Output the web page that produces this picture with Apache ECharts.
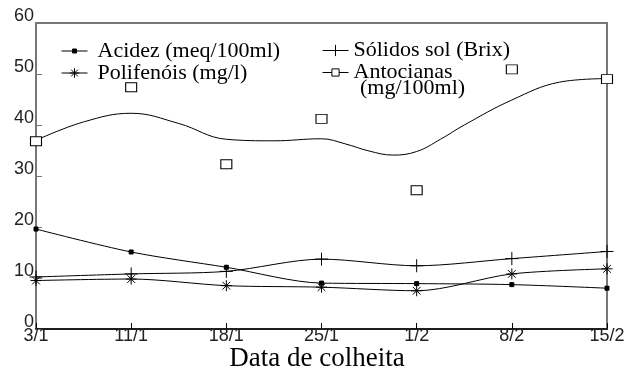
<!DOCTYPE html>
<html>
<head>
<meta charset="utf-8">
<script src="https://cdn.jsdelivr.net/npm/echarts@6/dist/echarts.min.js"></script>
<style>
  html, body { margin: 0; padding: 0; background: #fff; }
  #chart { width: 641px; height: 375px; }
</style>
</head>
<body>
<div id="chart"></div>
<script>
// datas de colheita
const categories = ['3/1', '11/1', '18/1', '25/1', '1/2', '8/2', '15/2'];
const yTicks = [0, 10, 20, 30, 40, 50, 60];
// valores
const acidez = [19.6, 15.1, 12.1, 9.0, 8.9, 8.7, 8.0];
const solidos = [10.2, 10.8, 11.3, 13.7, 12.4, 13.8, 15.2];
const polifenois = [9.5, 9.8, 8.5, 8.2, 7.5, 10.8, 11.8];
const antocianas = [36.8, 47.4, 32.3, 41.2, 27.2, 50.9, 49.0];
// curva ajustada das antocianas (posicao no eixo das datas, valor)
const curvePos = [0, 0.5, 1, 1.5, 2, 2.5, 3, 3.25, 3.5, 3.75, 4, 4.25, 4.5, 5, 5.5, 6];
const curveVals = [37.0, 40.6, 42.3, 40.3, 37.2, 36.9, 37.3, 36.3, 34.9, 34.1, 34.8, 37.2, 40.0, 44.9, 48.4, 49.1];

const serif = '"Liberation Serif", "Times New Roman", serif';
const sans = '"Liberation Sans", Arial, sans-serif';
const black = '#000';
const frame = '#777';

// simbolos
const plusPath = 'path://M0,5L10,5M5,0L5,10';
const starPath = 'path://M0,5L10,5M5,0L5,10M1.5,1.5L8.5,8.5M8.5,1.5L1.5,8.5';

const chart = echarts.init(document.getElementById('chart'));

function legendAt(name, left, top, itemHeight, itemStyle, padLeft) {
  return {
    show: true,
    data: [{ name: name, itemStyle: itemStyle, lineStyle: { color: black, width: 1, opacity: 1 } }],
    left: left,
    top: top,
    orient: 'vertical',
    itemWidth: 26,
    itemHeight: itemHeight,
    padding: 0,
    selectedMode: false,
    textStyle: {
      fontFamily: serif,
      fontSize: 22,
      lineHeight: 22,
      color: black,
      padding: [0, 0, 4, padLeft]
    }
  };
}

const lineStroke = { color: black, width: 1 };
const solidItem = { color: black, borderColor: black, borderWidth: 1 };
const boxItem = { color: '#fff', borderColor: black, borderWidth: 1 };
const tickFont = {
  fontFamily: sans,
  fontSize: 18,
  lineHeight: 14,
  color: '#222'
};

const option = {
  animation: false,
  backgroundColor: '#fff',
  grid: {
    left: 36,
    right: 34,
    top: 23,
    bottom: 46,
    show: true,
    borderColor: frame,
    borderWidth: 2,
    backgroundColor: 'transparent',
    outerBoundsMode: 'none'
  },
  legend: [
    legendAt('Acidez (meq/100ml)', 61, 38, 5, solidItem, 5),
    legendAt('Polifenóis (mg/l)', 61, 60, 12, solidItem, 5),
    legendAt('Sólidos sol (Brix)', 322, 37.5, 14, solidItem, 0),
    legendAt('Antocianas', 322, 59.5, 9, boxItem, 0)
  ],
  xAxis: [
    {
      type: 'category',
      data: categories,
      boundaryGap: false,
      axisLine: { lineStyle: { color: black, width: 1.5 } },
      axisTick: { inside: true, length: 6, alignWithLabel: true, lineStyle: { color: black } },
      axisLabel: Object.assign({ margin: 0, verticalAlign: 'top' }, tickFont),
      splitLine: { show: false }
    },
    {
      type: 'value',
      min: 0,
      max: 6,
      show: false
    }
  ],
  yAxis: {
    type: 'value',
    min: yTicks[0],
    max: yTicks[yTicks.length - 1],
    interval: 10,
    axisLine: { show: true, lineStyle: { color: frame, width: 2 } },
    axisTick: { show: true, inside: true, length: 6, lineStyle: { color: frame } },
    axisLabel: Object.assign({ margin: 2, verticalAlign: 'bottom' }, tickFont),
    splitLine: { show: false }
  },
  graphic: [
    {
      type: 'text',
      x: 360,
      y: 88.5,
      style: { text: '(mg/100ml)', font: '22px ' + serif, fill: black, align: 'left', verticalAlign: 'middle' }
    },
    {
      type: 'text',
      x: 317,
      y: 359,
      style: { text: 'Data de colheita', font: '27px ' + serif, fill: black, align: 'center', verticalAlign: 'middle' }
    }
  ],
  series: [
    {
      name: 'Acidez (meq/100ml)',
      type: 'line',
      data: acidez,
      smooth: 0.3,
      symbol: 'rect',
      symbolSize: 4,
      lineStyle: lineStroke,
      itemStyle: solidItem,
      z: 3
    },
    {
      name: 'Polifenóis (mg/l)',
      type: 'line',
      data: polifenois,
      smooth: 0.3,
      symbol: starPath,
      symbolSize: 11,
      lineStyle: lineStroke,
      itemStyle: solidItem,
      z: 3
    },
    {
      name: 'Sólidos sol (Brix)',
      type: 'line',
      data: solidos,
      smooth: 0.3,
      symbol: plusPath,
      symbolSize: 13,
      lineStyle: lineStroke,
      itemStyle: solidItem,
      z: 3
    },
    {
      name: 'Antocianas',
      type: 'line',
      data: antocianas,
      symbol: 'rect',
      symbolSize: [11, 9],
      lineStyle: { color: black, width: 1, opacity: 0 },
      itemStyle: boxItem,
      z: 4
    },
    {
      name: 'Antocianas ajuste',
      type: 'line',
      xAxisIndex: 1,
      data: curvePos.map((p, i) => [p, curveVals[i]]),
      smooth: 0.4,
      showSymbol: false,
      symbol: 'none',
      lineStyle: lineStroke,
      z: 3
    }
  ]
};

chart.setOption(option);
</script>
</body>
</html>
